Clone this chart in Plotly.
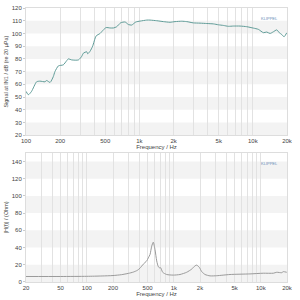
import numpy as np
import plotly.graph_objects as go
from plotly.subplots import make_subplots

# ---- data: SPL response (top) ----
spl_freq = [100, 105, 112, 124, 133, 147, 152, 163, 174, 180, 193, 213, 228, 236, 253, 290,
            310, 320, 343, 350, 367, 387, 415, 450, 481, 508, 551, 590, 631, 684, 748, 800,
            855, 929, 1014, 1161, 1240, 1421, 1626, 1862, 2061, 2360, 2612, 2988, 3422,
            3923, 4487, 4966, 5497, 6083, 6733, 7709, 8827, 10096, 11186, 12380, 13250,
            14180, 15170, 16240, 17130, 17970, 18840, 19910]
spl_db = [54.5, 51.8, 54.5, 62, 62.5, 62, 63, 61.5, 66, 70, 74.5, 75.3, 78.5, 80, 79.2, 79.2,
          82, 84.4, 85.6, 84, 86, 90, 98, 100, 102.8, 104.6, 104.3, 104.3, 105.3, 108.4,
          109, 107, 106.6, 109, 109.7, 110.5, 110.5, 110, 109.3, 108.8, 109.3, 109.6, 109.3,
          108.3, 108.1, 107.8, 107.5, 106.8, 106.3, 105.6, 105.8, 105.8, 105.3, 104.2, 103.2,
          100.6, 101.1, 100, 101.3, 102.8, 100.5, 99.2, 97.4, 100.5]

# ---- data: impedance (bottom) ----
imp_freq = [20, 50, 100, 150, 200, 250, 300, 342, 380, 408, 446, 488, 509, 533, 557, 581,
            608, 636, 664, 694, 707, 745, 828, 986, 1178, 1406, 1607, 1754, 1834, 1965,
            2094, 2285, 2609, 3117, 4424, 7508, 10690, 13930, 15240, 17390, 18130, 19850]
imp_ohm = [6.4, 6.4, 6.6, 7.0, 7.5, 8.5, 10, 11.5, 13.5, 16, 20.7, 24.5, 28, 32, 41.6, 46.3,
           37.6, 24.5, 17.7, 16.2, 16.6, 11.3, 8.7, 8.0, 8.7, 11.3, 15, 18.8, 19.6, 17,
           12, 8.7, 7.1, 7.3, 8.7, 9.4, 10.2, 10.2, 11.3, 10.8, 12, 11.3]

top_tickvals = [100, 200, 500, 1000, 2000, 5000, 10000, 20000]
top_ticktext = ["100", "200", "500", "1k", "2k", "5k", "10k", "20k"]
bot_tickvals = [20, 50, 100, 200, 500, 1000, 2000, 5000, 10000, 20000]
bot_ticktext = ["20", "50", "100", "200", "500", "1k", "2k", "5k", "10k", "20k"]

minor_vals = [m * 10 ** e for e in range(1, 5) for m in range(1, 10)]

fig = make_subplots(rows=2, cols=1, vertical_spacing=0.0643)
fig.update_layout(
    width=300, height=300, margin=dict(l=26, r=13, t=5, b=15),
    paper_bgcolor="white", plot_bgcolor="white", showlegend=False,
    font=dict(family="Liberation Sans, Arial", size=6, color="#444"),
)
fig.update_yaxes(domain=[0.5357, 1.0], row=1, col=1)
fig.update_yaxes(domain=[0.0, 0.4714], row=2, col=1)

fig.add_trace(go.Scatter(x=spl_freq, y=spl_db, mode="lines", line=dict(color="#5f9b97", width=1, shape="spline", smoothing=0.6)), row=1, col=1)
fig.add_trace(go.Scatter(x=imp_freq, y=imp_ohm, mode="lines", line=dict(color="#9a9a9a", width=1, shape="spline", smoothing=0.6)), row=2, col=1)

axcommon = dict(type="log", showgrid=False, showline=True, linecolor="#dddddd", mirror=True,
                ticks="", tickfont=dict(size=6, color="#444"),
                minor=dict(tickvals=minor_vals, showgrid=True, gridcolor="#e2e2e2", gridwidth=1, ticks=""),
                title=dict(text="Frequency / Hz", font=dict(size=6, color="#444"), standoff=0))
fig.update_xaxes(**axcommon, range=[2, np.log10(20000)], tickvals=top_tickvals, ticktext=top_ticktext, row=1, col=1)
fig.update_xaxes(**axcommon, range=[np.log10(20), np.log10(20000)], tickvals=bot_tickvals, ticktext=bot_ticktext, row=2, col=1)

ycommon = dict(showgrid=False, zeroline=False, showline=True, linecolor="#dddddd", mirror=True,
               ticks="outside", ticklen=2, tickcolor="#ccc", tickfont=dict(size=6, color="#444"))
fig.update_yaxes(**ycommon, range=[20, 120], dtick=10,
                 title=dict(text="Signal at IN1 / dB (re 20 µPa)", font=dict(size=5.5, color="#444"), standoff=2),
                 row=1, col=1)
fig.update_yaxes(**ycommon, range=[0, 150], tickvals=[0, 20, 40, 60, 80, 100, 120, 140],
                 title=dict(text="|H(f)| / (Ohm)", font=dict(size=5.5, color="#444"), standoff=2),
                 row=2, col=1)

# alternating bands
for lo in [20, 40, 60, 80, 100]:
    fig.add_shape(type="rect", xref="x domain", yref="y", x0=0, x1=1, y0=lo, y1=lo + 10,
                  fillcolor="#f3f3f3", line_width=0, layer="below")
for lo in [0, 40, 80, 120]:
    fig.add_shape(type="rect", xref="x2 domain", yref="y2", x0=0, x1=1, y0=lo, y1=lo + 20,
                  fillcolor="#f3f3f3", line_width=0, layer="below")

for xr, yr in [("x domain", "y domain"), ("x2 domain", "y2 domain")]:
    fig.add_annotation(xref=xr, yref=yr, x=0.975, y=0.955, text="KLIPPEL", showarrow=False,
                       xanchor="right", font=dict(size=4, color="#6a8fb8"))

fig.write_html("out.html")
